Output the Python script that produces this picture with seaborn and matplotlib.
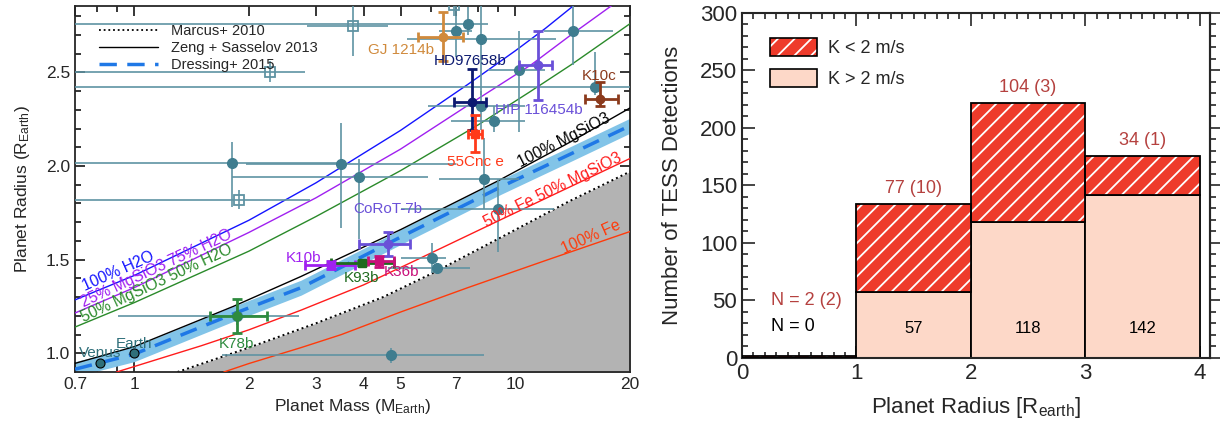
import matplotlib
matplotlib.use('Agg')
import matplotlib.pyplot as plt
import seaborn as sns
import numpy as np
import pandas as pd
from matplotlib.ticker import FixedLocator, MultipleLocator, NullFormatter, FixedFormatter
from matplotlib.lines import Line2D
from matplotlib.patches import Patch

# ---- left panel: model curves (mass in M_earth, radius in R_earth) ----
h2o_m = [0.7, 1.0, 2.0, 3.0, 5.0, 7.5, 10.0, 12.0, 14.3]
h2o_r = [1.285, 1.415, 1.71, 1.91, 2.19, 2.435, 2.615, 2.735, 2.86]
mg25_m = [0.7, 1.0, 2.0, 3.0, 5.0, 8.0, 11.0, 14.0, 18.0]
mg25_r = [1.215, 1.35, 1.645, 1.83, 2.09, 2.36, 2.54, 2.70, 2.86]
mg50_m = [0.7, 1.0, 2.0, 3.0, 5.0, 8.0, 11.0, 14.0, 20.0]
mg50_r = [1.14, 1.27, 1.545, 1.73, 1.975, 2.22, 2.40, 2.54, 2.76]
mgs_m = [0.7, 1.0, 1.82, 2.74, 5.0, 9.0, 14.0, 20.0]
mgs_r = [0.946, 1.035, 1.25, 1.41, 1.66, 1.92, 2.13, 2.31]
fe50_m = [0.9, 1.5, 2.0, 2.74, 4.0, 5.4, 9.2, 13.0, 20.0]
fe50_r = [0.90, 1.04, 1.125, 1.23, 1.365, 1.49, 1.715, 1.86, 2.04]
fe_m = [1.72, 2.0, 2.74, 3.5, 5.0, 7.5, 12.0, 20.0]
fe_r = [0.90, 0.945, 1.03, 1.10, 1.22, 1.35, 1.495, 1.65]
dr_m = [0.7, 1.0, 1.82, 2.74, 5.0, 9.2, 14.0, 20.0]
dr_r = [0.915, 0.995, 1.21, 1.35, 1.62, 1.89, 2.065, 2.215]
dr_lo = [0.875, 0.955, 1.17, 1.31, 1.58, 1.85, 2.025, 2.175]
dr_hi = [0.955, 1.035, 1.25, 1.39, 1.66, 1.93, 2.105, 2.255]
marcus_m = [1.30, 2.0, 3.0, 4.5, 6.1, 9.0, 13.8, 20.0]
marcus_r = [0.90, 1.03, 1.16, 1.30, 1.43, 1.61, 1.81, 1.97]

# ---- left panel: other known planets (teal) ----
oth_m = [1.81, 3.49, 3.89, 1.88, 2.27, 3.75, 6.90, 6.97, 7.5, 8.15, 10.2, 14.2,
         16.2, 8.15, 8.8, 8.3, 9.0, 6.05, 6.25, 4.72, 1.86]
oth_r = [2.015, 2.01, 1.94, 1.82, 2.50, 2.75, 2.86, 2.72, 2.76, 2.68, 2.51, 2.72,
         2.42, 2.32, 2.24, 1.93, 1.77, 1.51, 1.457, 0.99, 1.20]
oth_mlo = [0.6, 1.97, 1.81, 0.5, 0.5, 2.85, 6.3, 6.3, 0.6, 5.2, 8.5, 11.9,
           0.6, 5.9, 6.8, 6.3, 5.0, 5.0, 4.65, 1.7, 0.905]
oth_mhi = [3.5, 7.0, 5.9, 2.9, 2.8, 4.63, 7.5, 7.7, 8.5, 12.8, 12.0, 18.0,
           25.0, 10.6, 10.6, 10.2, 12.6, 6.6, 7.6, 8.3, 2.70]
oth_rlo = [1.78, 1.67, 1.61, 1.77, 2.45, 2.59, 2.80, 2.58, 2.70, 2.38, 2.18, 2.54,
           2.38, 2.19, 2.18, 1.77, 1.54, 1.43, 1.43, 0.946, 1.15]
oth_rhi = [2.13, 2.23, 2.04, 1.87, 2.56, 2.88, 2.92, 2.90, 2.85, 2.90, 2.72, 2.90,
           2.61, 2.40, 2.32, 2.15, 1.93, 1.59, 1.48, 1.03, 1.25]
oth_open = [False, False, False, True, True, True, True, False, False, False, False, False,
            False, False, False, False, False, False, False, False, False]
sol_names = ['Venus', 'Earth']
sol_m = [0.815, 1.0]
sol_r = [0.95, 1.0]

# ---- left panel: highlighted planets ----
hl_names = ['GJ 1214b', 'HD97658b', '55Cnc e', 'HIP 116454b', 'K10c', 'CoRoT-7b',
            'K10b', 'K93b', 'K36b', 'K78b']
hl_m = [6.45, 7.7, 7.85, 11.5, 16.7, 4.63, 3.28, 3.96, 4.39, 1.86]
hl_r = [2.69, 2.34, 2.17, 2.54, 2.36, 1.585, 1.47, 1.48, 1.49, 1.20]
hl_mlo = [5.55, 6.9, 7.5, 10.2, 15.2, 3.9, 2.8, 3.28, 4.1, 1.58]
hl_mhi = [7.3, 8.4, 8.2, 12.5, 18.6, 5.3, 3.8, 4.8, 4.8, 2.23]
hl_rlo = [2.56, 2.19, 2.075, 2.355, 2.32, 1.52, 1.45, 1.47, 1.46, 1.11]
hl_rhi = [2.82, 2.52, 2.27, 2.72, 2.45, 1.65, 1.49, 1.49, 1.52, 1.29]
hl_colors = ['#d08a3c', '#0c1a70', '#ff3a1a', '#6a50d8', '#8b3a1c', '#6a50d8',
             '#a020f0', '#1e6a1e', '#c8107a', '#2e8b3e']
hl_markers = ['o', 'o', 's', 'o', 'o', 'o', 's', 's', 's', 'o']

# ---- right panel: TESS detections per radius bin ----
bin_left = [0, 1, 2, 3]
n_low_k = [2, 77, 104, 34]      # K < 2 m/s
n_low_k_bright = [2, 10, 3, 1]  # numbers in parentheses
n_high_k = [0, 57, 118, 142]    # K > 2 m/s

sns.set_style('ticks')
plt.rcParams['font.family'] = ['Liberation Sans', 'DejaVu Sans']
plt.rcParams['mathtext.fontset'] = 'custom'
plt.rcParams['mathtext.rm'] = 'Liberation Sans'
plt.rcParams['mathtext.it'] = 'Liberation Sans:italic'
plt.rcParams['hatch.linewidth'] = 1.3

fig = plt.figure(figsize=(12.2, 4.23), dpi=100)
ax = fig.add_axes([0.0615, 0.1206, 0.4549, 0.8655])
ax.set_xscale('log')

teal = '#3f7d8f'
teal_err = '#5f93a3'

# grey excluded region + Marcus line
ax.fill_between(marcus_m + [25], [0.85] * (len(marcus_m) + 1), marcus_r + [2.05],
                color='#b3b3b3', lw=0, zorder=1)
sns.lineplot(x=marcus_m, y=marcus_r, ax=ax, color='black', lw=1.4,
             linestyle=(0, (1, 1.6)), sort=False, estimator=None, zorder=2)

# Dressing band
ax.fill_between(dr_m, dr_lo, dr_hi, color='#82c4e8', lw=0, zorder=2)
sns.lineplot(x=dr_m, y=dr_r, ax=ax, color='#1f78e6', lw=2.5,
             linestyle=(0, (5, 3)), sort=False, estimator=None, zorder=3)

curves = [(h2o_m, h2o_r, '#1414ff'), (mg25_m, mg25_r, '#a020f0'),
          (mg50_m, mg50_r, '#2a8a2a'), (mgs_m, mgs_r, 'black'),
          (fe50_m, fe50_r, '#ff1c1c'), (fe_m, fe_r, '#ff3a0a')]
for cm, cr, cc in curves:
    sns.lineplot(x=cm, y=cr, ax=ax, color=cc, lw=1.0, sort=False,
                 estimator=None, zorder=3)

# other planets
for i in range(len(oth_m)):
    ax.errorbar(oth_m[i], oth_r[i],
                xerr=[[oth_m[i] - oth_mlo[i]], [oth_mhi[i] - oth_m[i]]],
                yerr=[[oth_r[i] - oth_rlo[i]], [oth_rhi[i] - oth_r[i]]],
                fmt='none', ecolor=teal_err, elinewidth=1.2, zorder=4)
    if oth_open[i]:
        ax.plot(oth_m[i], oth_r[i], 's', mfc='none', mec=teal_err, ms=7, mew=1.3, zorder=5)
    else:
        ax.plot(oth_m[i], oth_r[i], 'o', color=teal, ms=7, zorder=5)
ax.plot(sol_m, sol_r, 'o', mfc='#2f6f7a', mec='black', mew=0.8, ms=6.5, zorder=6, ls='none')

for i in range(len(hl_m)):
    ax.errorbar(hl_m[i], hl_r[i],
                xerr=[[hl_m[i] - hl_mlo[i]], [hl_mhi[i] - hl_m[i]]],
                yerr=[[hl_r[i] - hl_rlo[i]], [hl_rhi[i] - hl_r[i]]],
                fmt=hl_markers[i], color=hl_colors[i], ms=6, elinewidth=2,
                capsize=3.5, capthick=2, zorder=7)

# planet labels
lab_pos = {'GJ 1214b': (5.0, 2.60), 'HD97658b': (7.6, 2.54), '55Cnc e': (7.85, 2.0),
           'HIP 116454b': (11.5, 2.28), 'K10c': (16.6, 2.457), 'CoRoT-7b': (4.63, 1.75),
           'K10b': (2.79, 1.487), 'K93b': (3.94, 1.38), 'K36b': (5.04, 1.41),
           'K78b': (1.86, 1.03)}
for i, nm in enumerate(hl_names):
    px, py = lab_pos[nm]
    ax.text(px, py, nm, color=hl_colors[i], fontsize=11, ha='center', va='baseline', zorder=8)
ax.text(0.815, 0.978, 'Venus', color='#2f6f7a', fontsize=11, ha='center', va='baseline', zorder=8)
ax.text(1.0, 1.027, 'Earth', color='#2f6f7a', fontsize=11, ha='center', va='baseline', zorder=8)

# curve labels
curve_labels = [('100% H2O', 0.745, 1.33, 24, '#1414ff'),
                ('25% MgSiO3 75% H2O', 0.74, 1.245, 25, '#a020f0'),
                ('50% MgSiO3 50% H2O', 0.74, 1.163, 25, '#2a8a2a'),
                ('100% MgSiO3', 10.3, 1.995, 27, 'black'),
                ('50% Fe 50% MgSiO3', 8.4, 1.67, 26, '#ff1c1c'),
                ('100% Fe', 13.4, 1.53, 24, '#ff3a0a')]
for t, tx, ty, rot, col in curve_labels:
    ax.text(tx, ty, t, color=col, fontsize=11.3, rotation=rot, rotation_mode='anchor',
            ha='left', va='baseline', zorder=8)

ax.set_xlim(0.7, 20)
ax.set_ylim(0.9, 2.855)
xt = [0.7, 1, 2, 3, 4, 5, 7, 10, 20]
ax.xaxis.set_major_locator(FixedLocator(xt))
ax.xaxis.set_major_formatter(FixedFormatter(['0.7', '1', '2', '3', '4', '5', '7', '10', '20']))
ax.xaxis.set_minor_locator(FixedLocator([0.8, 0.9, 6, 8, 9]))
ax.xaxis.set_minor_formatter(NullFormatter())
ax.yaxis.set_minor_locator(MultipleLocator(0.1))
ax.set_yticks([1.0, 1.5, 2.0, 2.5], ['1.0', '1.5', '2.0', '2.5'])
ax.tick_params(which='both', direction='in', top=True, right=True, width=1.1,
               labelsize=12.5, color='black')
ax.tick_params(which='major', length=7)
ax.tick_params(which='minor', length=4.5)
for s in ax.spines.values():
    s.set_linewidth(1.3)
ax.set_xlabel(r'Planet Mass (M$_{\rm Earth}$)', fontsize=12.5, labelpad=4)
ax.set_ylabel(r'Planet Radius (R$_{\rm Earth}$)', fontsize=12.5, labelpad=10)

leg_handles = [Line2D([], [], color='black', lw=1.3, ls=(0, (1, 1.6))),
               Line2D([], [], color='black', lw=1.0),
               Line2D([], [], color='#1f78e6', lw=2.5, ls=(0, (5, 3)))]
ax.legend(leg_handles, ['Marcus+ 2010', 'Zeng + Sasselov 2013', 'Dressing+ 2015'],
          loc='upper left', bbox_to_anchor=(0.02, 0.985), frameon=False, fontsize=10.5,
          handlelength=4.0, labelspacing=0.2, handletextpad=0.9)

# ---- right panel ----
red = '#ee3b2b'
peach = '#fdd8c8'
txt_red = '#b5413f'
bx = fig.add_axes([0.6082, 0.1537, 0.3836, 0.8156])
bx.bar(bin_left, n_high_k, width=1, align='edge', color=peach, edgecolor='black', lw=1.3, zorder=2)
bx.bar(bin_left, n_low_k, width=1, align='edge', bottom=n_high_k, color=red,
       edgecolor='white', hatch='//', lw=0, zorder=2)
bx.bar(bin_left, n_low_k, width=1, align='edge', bottom=n_high_k, fill=False,
       edgecolor='black', lw=1.3, zorder=3)
for i in range(1, 4):
    top = n_high_k[i] + n_low_k[i]
    bx.text(bin_left[i] + 0.5, top + 6, f'{n_low_k[i]} ({n_low_k_bright[i]})',
            color=txt_red, fontsize=13, ha='center', va='bottom')
    bx.text(bin_left[i] + 0.5, 26, f'{n_high_k[i]}', color='black', fontsize=12,
            ha='center', va='center')
bx.text(0.25, 50, f'N = {n_low_k[0]} ({n_low_k_bright[0]})', color=txt_red, fontsize=13,
        ha='left', va='center')
bx.text(0.25, 27, f'N = {n_high_k[0]}', color='black', fontsize=13, ha='left', va='center')

bx.set_xlim(0, 4.09)
bx.set_ylim(0, 300)
bx.xaxis.set_major_locator(MultipleLocator(1))
bx.xaxis.set_minor_locator(MultipleLocator(0.1))
bx.yaxis.set_major_locator(MultipleLocator(50))
bx.yaxis.set_minor_locator(MultipleLocator(10))
bx.tick_params(which='both', direction='in', top=True, right=False, width=1.2,
               labelsize=16)
bx.tick_params(which='major', length=9)
bx.tick_params(which='minor', length=4.5)
sec = bx.secondary_yaxis('right')
sec.yaxis.set_major_locator(MultipleLocator(50))
sec.yaxis.set_minor_locator(MultipleLocator(10))
sec.tick_params(which='both', direction='out', width=1.2, labelright=False)
sec.tick_params(which='major', length=9)
sec.tick_params(which='minor', length=4.5)
sec.spines['right'].set_linewidth(1.5)
for s in bx.spines.values():
    s.set_linewidth(1.5)
bx.set_xlabel(r'Planet Radius [R$_{\rm earth}$]', fontsize=16, labelpad=8)
bx.set_ylabel('Number of TESS Detections', fontsize=16, labelpad=12)

h1 = (Patch(facecolor=red, edgecolor='white', hatch='//', lw=0),
      Patch(fill=False, edgecolor='black', lw=1.2))
h2 = Patch(facecolor=peach, edgecolor='black', lw=1.2)
bx.legend([h1, h2], ['K < 2 m/s', 'K > 2 m/s'], loc='upper left',
          bbox_to_anchor=(0.025, 0.975), frameon=False, fontsize=13,
          handlelength=2.6, handleheight=1.2, labelspacing=0.65, handletextpad=0.6)

fig.savefig('out.png', dpi=100)
